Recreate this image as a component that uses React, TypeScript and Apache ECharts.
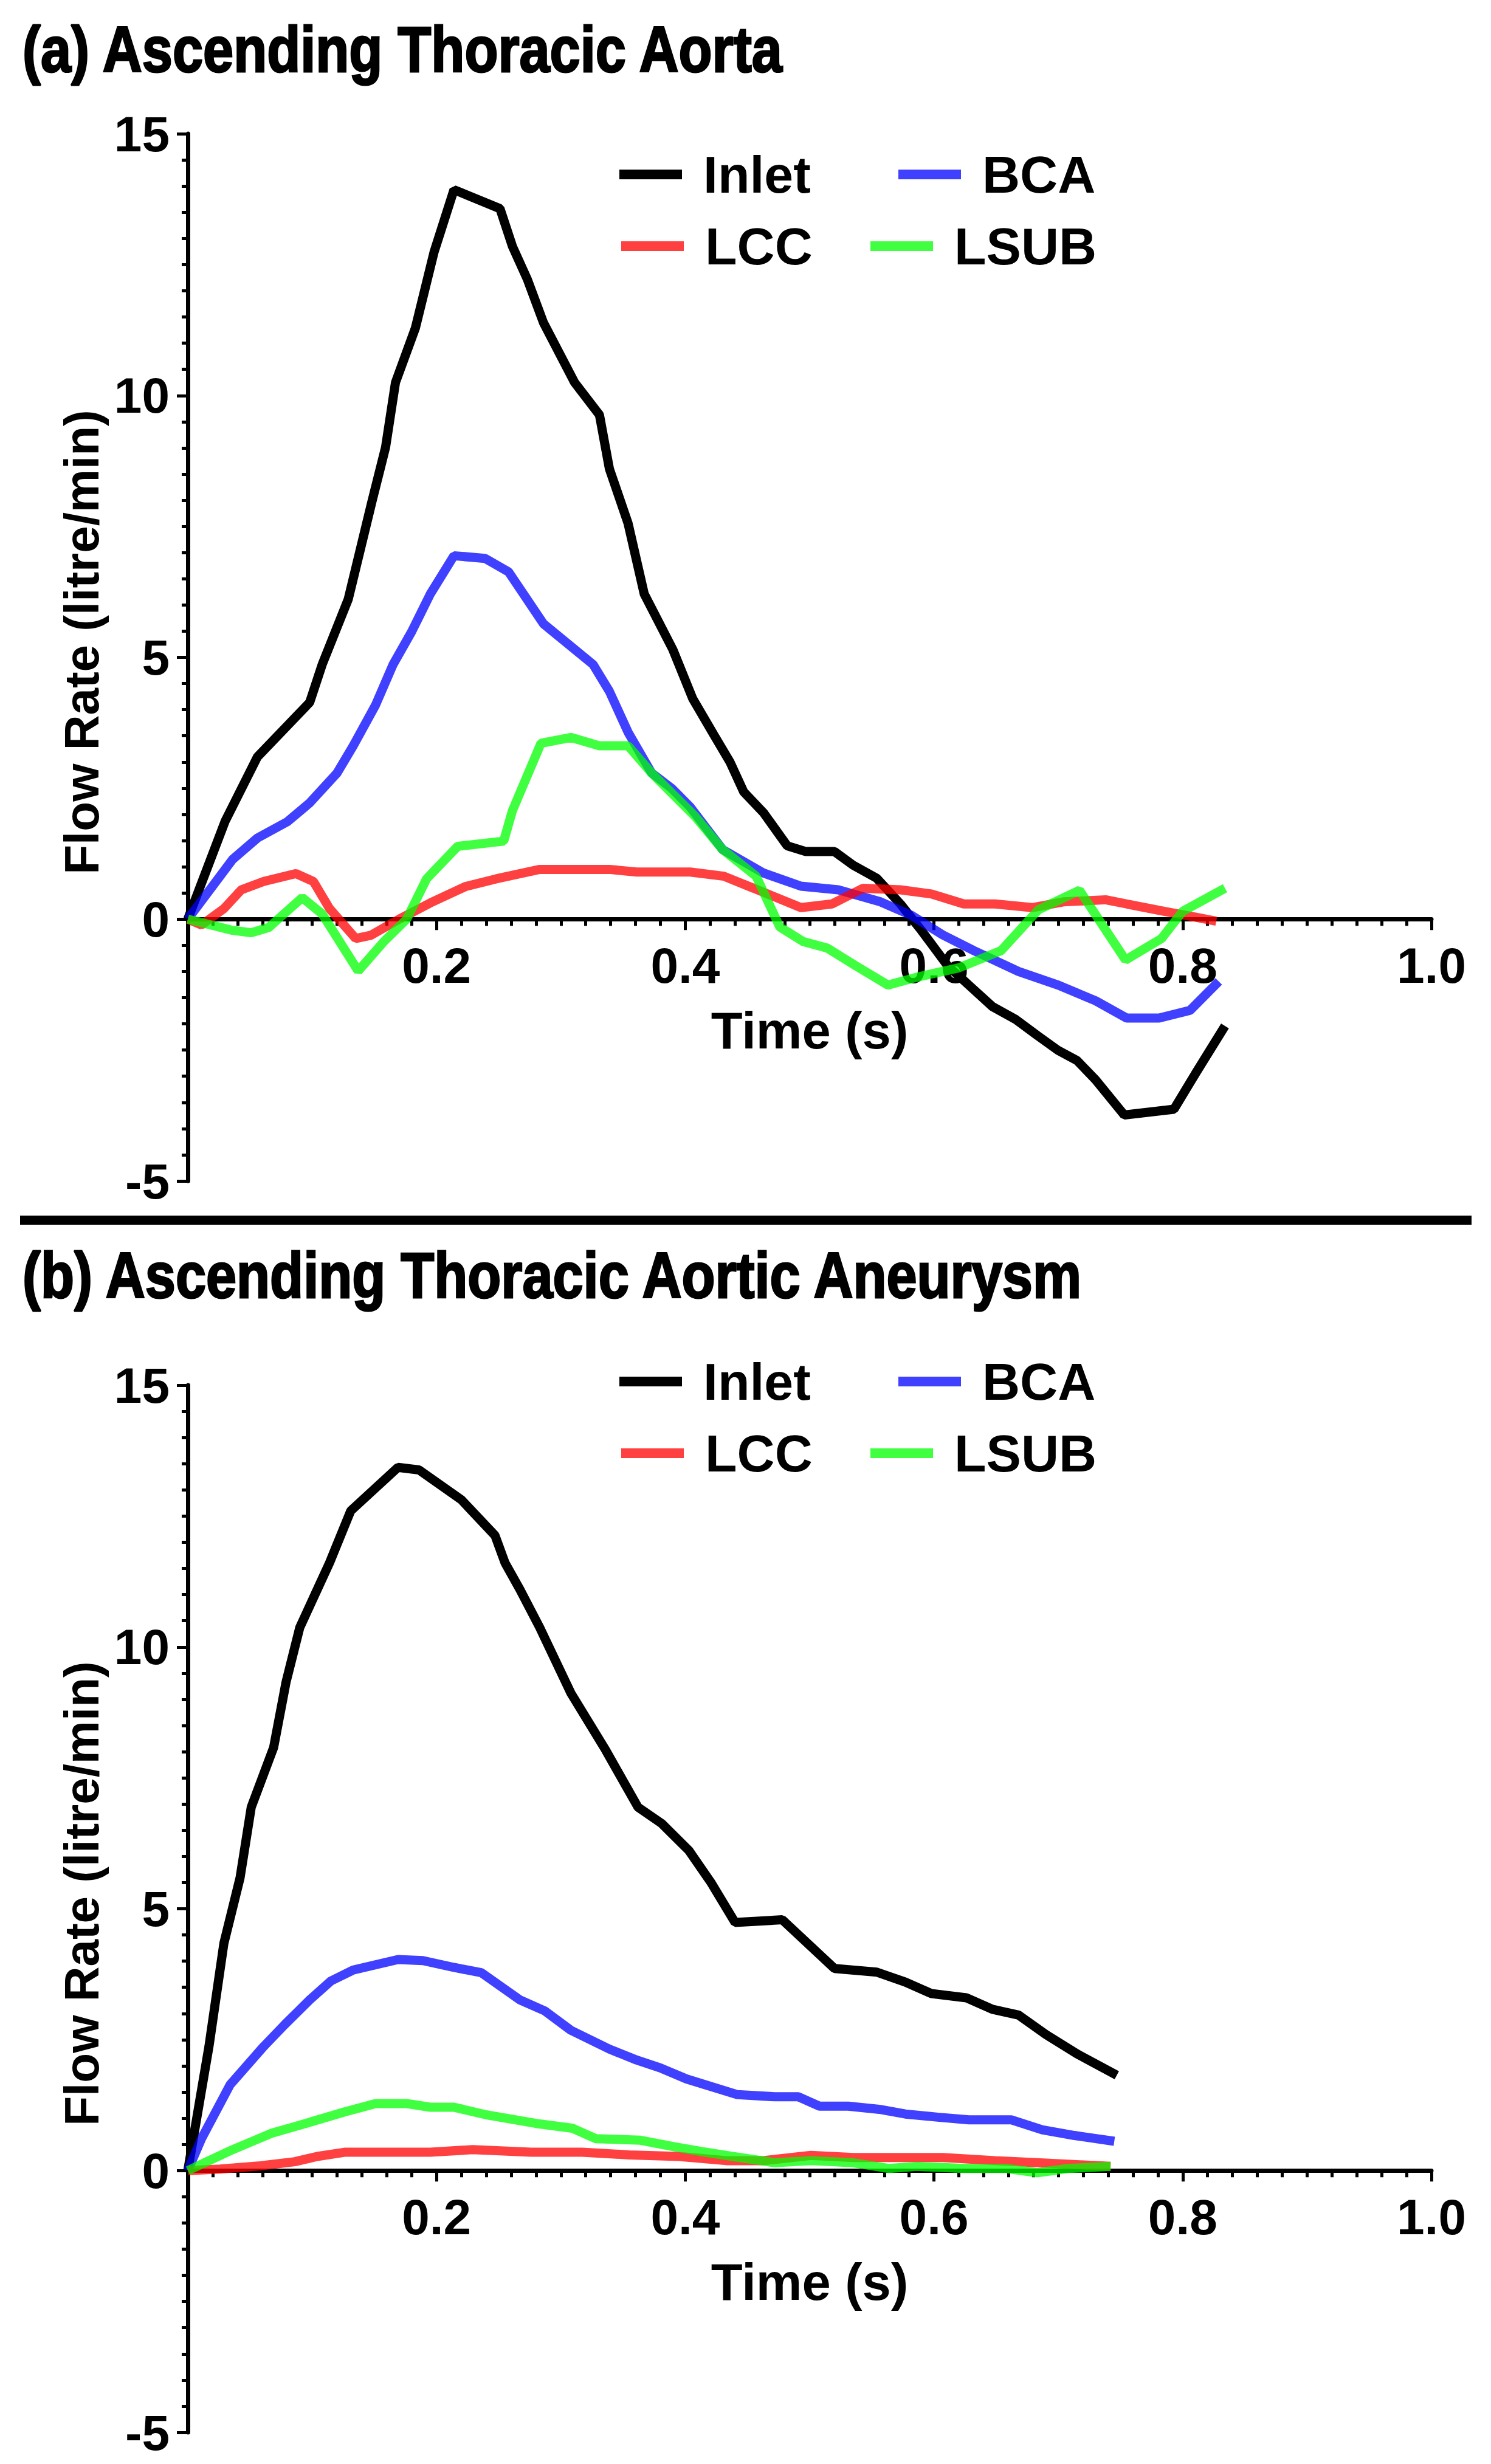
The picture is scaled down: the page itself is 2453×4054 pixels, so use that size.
import { useEffect, useRef } from 'react';
import * as echarts from 'echarts';

const FONT = '"Liberation Sans", Arial, Helvetica, sans-serif';

const SERIES_NAMES = ['Inlet', 'BCA', 'LCC', 'LSUB'];
const SERIES_COLORS = ['#000000', 'rgba(0,0,255,0.75)', 'rgba(255,0,0,0.75)', 'rgba(0,255,0,0.75)'];

const TITLES = ['(a) Ascending Thoracic Aorta', '(b) Ascending Thoracic Aortic Aneurysm'];
const X_NAME = 'Time (s)';
const Y_NAME = 'Flow Rate (litre/min)';
const Y_MIN = -5;
const Y_MAX = 15;

// (a) normal aorta: [time s, flow litre/min]
const aortaInlet: [number, number][] = [
  [0, 0], [0.03, 1.87], [0.056, 3.1], [0.098, 4.14], [0.108, 4.86], [0.129, 6.11],
  [0.148, 7.97], [0.159, 9.01], [0.167, 10.25], [0.183, 11.29], [0.198, 12.74], [0.214, 13.93],
  [0.251, 13.57], [0.261, 12.85], [0.273, 12.22], [0.286, 11.39], [0.311, 10.25], [0.331, 9.63],
  [0.339, 8.6], [0.354, 7.56], [0.367, 6.21], [0.39, 5.15], [0.406, 4.21], [0.423, 3.52],
  [0.436, 3.0], [0.447, 2.43], [0.463, 2.03], [0.482, 1.4], [0.497, 1.29], [0.52, 1.29],
  [0.535, 1.03], [0.554, 0.78], [0.573, 0.29], [0.59, -0.22], [0.611, -0.89], [0.628, -1.26],
  [0.647, -1.67], [0.666, -1.92], [0.683, -2.22], [0.7, -2.51], [0.715, -2.7], [0.73, -3.07],
  [0.753, -3.74], [0.793, -3.63], [0.81, -2.96], [0.834, -2.04],
];
const aortaBCA: [number, number][] = [
  [0, 0], [0.036, 1.14], [0.056, 1.55], [0.08, 1.86], [0.098, 2.22], [0.12, 2.79],
  [0.133, 3.31], [0.151, 4.09], [0.165, 4.86], [0.18, 5.49], [0.195, 6.21], [0.214, 6.94],
  [0.239, 6.89], [0.258, 6.63], [0.286, 5.64], [0.326, 4.86], [0.339, 4.35], [0.354, 3.57],
  [0.373, 2.79], [0.389, 2.5], [0.404, 2.14], [0.43, 1.33], [0.463, 0.88], [0.493, 0.63],
  [0.523, 0.56], [0.557, 0.33], [0.582, 0.07], [0.607, -0.3], [0.632, -0.6], [0.668, -1.0],
  [0.7, -1.26], [0.73, -1.56], [0.755, -1.89], [0.781, -1.89], [0.806, -1.74], [0.829, -1.19],
];
const aortaLCC: [number, number][] = [
  [0, 0], [0.011, -0.11], [0.029, 0.2], [0.043, 0.56], [0.061, 0.72], [0.087, 0.87],
  [0.101, 0.72], [0.114, 0.2], [0.135, -0.37], [0.147, -0.31], [0.17, 0], [0.195, 0.31],
  [0.223, 0.62], [0.248, 0.77], [0.283, 0.95], [0.339, 0.95], [0.361, 0.9], [0.404, 0.9],
  [0.431, 0.82], [0.455, 0.59], [0.493, 0.22], [0.518, 0.29], [0.543, 0.59], [0.573, 0.56],
  [0.598, 0.48], [0.624, 0.29], [0.649, 0.29], [0.679, 0.22], [0.704, 0.33], [0.738, 0.37],
  [0.755, 0.29], [0.785, 0.15], [0.81, 0.04], [0.827, -0.04],
];
const aortaLSUB: [number, number][] = [
  [0, 0], [0.035, -0.21], [0.051, -0.26], [0.065, -0.16], [0.092, 0.41], [0.108, 0.1],
  [0.137, -0.99], [0.158, -0.42], [0.176, 0], [0.192, 0.77], [0.217, 1.39], [0.254, 1.49],
  [0.261, 2.07], [0.284, 3.36], [0.308, 3.47], [0.331, 3.31], [0.354, 3.31], [0.373, 2.79],
  [0.408, 1.96], [0.43, 1.33], [0.457, 0.82], [0.476, -0.15], [0.495, -0.43], [0.514, -0.55],
  [0.537, -0.89], [0.563, -1.26], [0.586, -1.11], [0.62, -0.93], [0.654, -0.6], [0.684, 0.18],
  [0.717, 0.55], [0.754, -0.78], [0.783, -0.37], [0.8, 0.15], [0.834, 0.59],
];

// (b) aneurysm
const aneurysmInlet: [number, number][] = [
  [0, 0], [0.017, 2.37], [0.029, 4.34], [0.042, 5.59], [0.051, 6.94], [0.069, 8.08],
  [0.079, 9.33], [0.09, 10.37], [0.114, 11.61], [0.131, 12.6], [0.169, 13.43], [0.186, 13.38],
  [0.22, 12.81], [0.247, 12.13], [0.255, 11.61], [0.267, 11.1], [0.283, 10.37], [0.308, 9.12],
  [0.336, 8.03], [0.362, 6.94], [0.381, 6.63], [0.403, 6.11], [0.421, 5.49], [0.44, 4.74],
  [0.478, 4.79], [0.52, 3.86], [0.554, 3.79], [0.577, 3.6], [0.598, 3.38], [0.626, 3.3],
  [0.647, 3.08], [0.668, 2.97], [0.69, 2.6], [0.715, 2.23], [0.747, 1.82],
];
const aneurysmBCA: [number, number][] = [
  [0, 0], [0.011, 0.61], [0.034, 1.64], [0.061, 2.37], [0.078, 2.79], [0.098, 3.26],
  [0.115, 3.62], [0.133, 3.83], [0.169, 4.03], [0.189, 4.01], [0.214, 3.88], [0.236, 3.78],
  [0.267, 3.26], [0.287, 3.05], [0.308, 2.68], [0.339, 2.32], [0.361, 2.11], [0.38, 1.96],
  [0.401, 1.75], [0.442, 1.45], [0.472, 1.41], [0.491, 1.41], [0.508, 1.23], [0.531, 1.23],
  [0.556, 1.17], [0.577, 1.08], [0.603, 1.02], [0.628, 0.97], [0.662, 0.97], [0.687, 0.78],
  [0.713, 0.67], [0.745, 0.56],
];
const aneurysmLCC: [number, number][] = [
  [0, 0], [0.026, 0.03], [0.058, 0.09], [0.086, 0.17], [0.104, 0.27], [0.126, 0.35],
  [0.195, 0.35], [0.229, 0.4], [0.276, 0.35], [0.317, 0.35], [0.355, 0.3], [0.395, 0.27],
  [0.433, 0.19], [0.463, 0.19], [0.501, 0.29], [0.535, 0.25], [0.607, 0.25], [0.649, 0.19],
  [0.683, 0.15], [0.717, 0.11], [0.742, 0.08],
];
const aneurysmLSUB: [number, number][] = [
  [0, 0], [0.036, 0.4], [0.067, 0.71], [0.089, 0.86], [0.126, 1.12], [0.151, 1.28],
  [0.176, 1.28], [0.195, 1.21], [0.214, 1.21], [0.239, 1.07], [0.28, 0.9], [0.309, 0.81],
  [0.328, 0.61], [0.364, 0.58], [0.392, 0.45], [0.414, 0.36], [0.438, 0.27], [0.472, 0.15],
  [0.501, 0.19], [0.535, 0.15], [0.564, 0.04], [0.586, 0.08], [0.624, 0.04], [0.658, 0.04],
  [0.683, -0.04], [0.708, 0.04], [0.742, 0.08],
];

const PANELS = [
  [aortaInlet, aortaBCA, aortaLCC, aortaLSUB],
  [aneurysmInlet, aneurysmBCA, aneurysmLCC, aneurysmLSUB],
];

// layout (px)
const GRID_TOPS = [220, 2279];
const GRID_LEFT = 309;
const GRID_W = 2046;
const GRID_H = 1723;
const TITLE_Y = [81, 2098];
const LEGEND_ROW_TOPS = [[244, 362], [2230, 2348]];
// per series: [left, row]
const LEGEND_POS: [number, number][] = [[1019, 0], [1478, 0], [1022, 1], [1432, 1]];

const bold = { color: '#000', fontWeight: 'bold' as const, fontFamily: FONT };

export default function App() {
  const ref = useRef<HTMLDivElement>(null);

  useEffect(() => {
    if (!ref.current) return;
    const chart = echarts.init(ref.current, undefined, { renderer: 'svg' });

    const grids = GRID_TOPS.map((top) => ({ left: GRID_LEFT, top, width: GRID_W, height: GRID_H }));

    // x axis sits at y = 0: lift it from the grid bottom
    const zeroLift = (GRID_H * (0 - Y_MIN)) / (Y_MAX - Y_MIN);

    const xAxes = GRID_TOPS.map((_, i) => ({
      type: 'value',
      gridIndex: i,
      min: 0,
      max: 1,
      interval: 0.2,
      offset: -zeroLift,
      name: X_NAME,
      nameLocation: 'middle',
      nameGap: 141,
      nameTextStyle: { ...bold, fontSize: 85 },
      axisLine: { show: true, onZero: false, lineStyle: { color: '#000', width: 7 } },
      axisTick: { show: true, length: 18, lineStyle: { color: '#000', width: 5 } },
      minorTick: { show: true, splitNumber: 10, length: 11, lineStyle: { color: '#000', width: 5 } },
      splitLine: { show: false },
      axisLabel: {
        ...bold,
        fontSize: 82,
        margin: 35,
        formatter: (v: number) => (v === 0 ? '' : v.toFixed(1)),
      },
    }));

    const yAxes = GRID_TOPS.map((_, i) => ({
      type: 'value',
      gridIndex: i,
      min: Y_MIN,
      max: Y_MAX,
      interval: 5,
      name: Y_NAME,
      nameLocation: 'middle',
      nameRotate: 90,
      nameGap: 135,
      nameTextStyle: { ...bold, fontSize: 80, padding: [0, 0, 0, 50] },
      axisLine: { show: true, onZero: false, lineStyle: { color: '#000', width: 7 } },
      axisTick: { show: true, length: 18, lineStyle: { color: '#000', width: 5 } },
      minorTick: { show: true, splitNumber: 10, length: 10, lineStyle: { color: '#000', width: 5 } },
      splitLine: { show: false },
      axisLabel: { ...bold, fontSize: 82, margin: 30 },
    }));

    const series = PANELS.flatMap((panel, p) =>
      panel.map((data, s) => ({
        type: 'line',
        name: SERIES_NAMES[s],
        xAxisIndex: p,
        yAxisIndex: p,
        data,
        showSymbol: false,
        symbol: 'none',
        itemStyle: { color: SERIES_COLORS[s] },
        lineStyle: { color: SERIES_COLORS[s], width: 15 },
        emphasis: { disabled: true },
      }))
    );

    const legends = LEGEND_ROW_TOPS.flatMap((rows) =>
      SERIES_NAMES.map((name, s) => ({
        data: [name],
        left: LEGEND_POS[s][0],
        top: rows[LEGEND_POS[s][1]],
        padding: 0,
        icon: 'rect',
        itemWidth: 103,
        itemHeight: 16,
        selectedMode: false,
        textStyle: { ...bold, fontSize: 86, lineHeight: 86, padding: [0, 0, 0, 30] },
      }))
    );

    chart.setOption({
      animation: false,
      backgroundColor: '#fff',
      textStyle: { fontFamily: FONT },
      grid: grids,
      xAxis: xAxes,
      yAxis: yAxes,
      legend: legends,
      series,
      graphic: [
        ...TITLES.map((text, i) => ({
          type: 'text',
          x: 37,
          y: TITLE_Y[i],
          scaleX: 0.85,
          style: {
            text,
            fontSize: 106,
            fontWeight: 'bold',
            fontFamily: FONT,
            fill: '#000',
            stroke: '#000',
            lineWidth: 3,
            align: 'left',
            verticalAlign: 'middle',
            textAlign: 'left',
            textVerticalAlign: 'middle',
          },
        })),
        { type: 'rect', shape: { x: 33, y: 2000, width: 2388, height: 15 }, style: { fill: '#000' } },
      ],
    });

    return () => chart.dispose();
  }, []);

  return (
    <div
      ref={ref}
      style={{ position: 'absolute', left: 0, top: 0, width: 2453, height: 4054 }}
    />
  );
}
